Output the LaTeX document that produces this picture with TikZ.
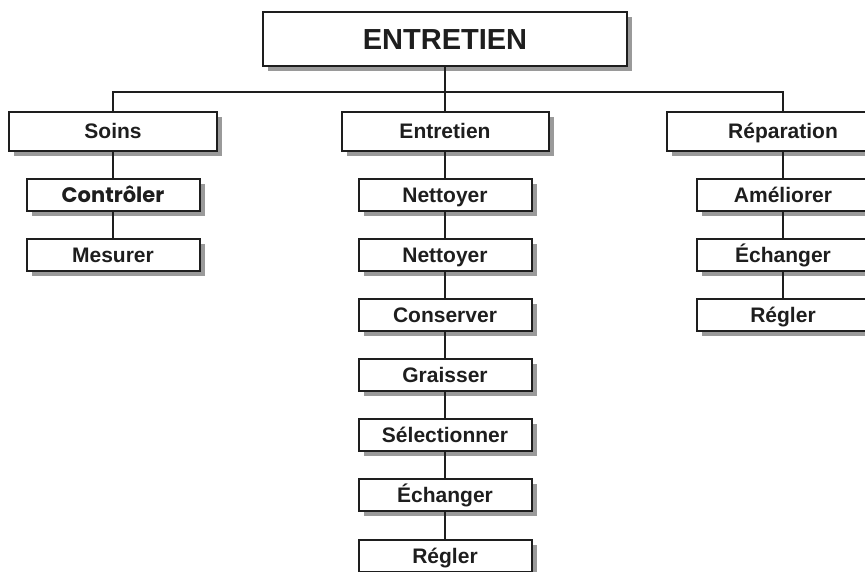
\documentclass[tikz,border=0pt]{standalone}
\usepackage{fontspec}
\setmainfont{Liberation Sans}
\newfontfamily\geofont{Poppins}
\usetikzlibrary{shadows}
\definecolor{ink}{HTML}{1E1E1E}
\definecolor{shade}{HTML}{9A9A9A}
\tikzset{
  box/.style={draw=ink, line width=2pt, fill=white, inner sep=0pt,
    text=ink, font=\bfseries\fontsize{21}{21}\selectfont,
    text height=15pt, text depth=0pt,
    drop shadow={shadow xshift=5pt, shadow yshift=-5pt, fill=shade, opacity=1}},
  topbox/.style={box, minimum width=364pt, minimum height=54pt,
    font=\bfseries\fontsize{29}{29}\selectfont, text height=20.8pt},
  mainbox/.style={box, minimum height=39pt},
  subbox/.style={box, minimum width=173pt, minimum height=32pt},
  link/.style={draw=ink, line width=2pt}
}
\begin{document}
\begin{tikzpicture}[x=1pt,y=-1pt]
\useasboundingbox (0,0) rectangle (865,572);
\clip (0,0) rectangle (865,572);
\fill[white] (0,0) rectangle (865,572);
% top
\node[topbox] (top) at (445,39) {ENTRETIEN};
% level 1
\node[mainbox, minimum width=208pt] (soins) at (113,131.5) {Soins};
\node[mainbox, minimum width=207pt] (ent) at (445,131.5) {Entretien};
\node[mainbox, minimum width=232pt] (rep) at (783,131.5) {Réparation};
% Soins column
\node[subbox, font=\geofont\bfseries\fontsize{21}{21}\selectfont] (s1) at (113,195) {Contrôler};
\node[subbox] (s2) at (113,255) {Mesurer};
% Entretien column
\node[subbox] (e1) at (445,195) {Nettoyer};
\node[subbox] (e2) at (445,255) {Nettoyer};
\node[subbox] (e3) at (445,315) {Conserver};
\node[subbox] (e4) at (445,375) {Graisser};
\node[subbox] (e5) at (445,435) {Sélectionner};
\node[subbox] (e6) at (445,495) {Échanger};
\node[subbox] (e7) at (445,556) {Régler};
% Réparation column
\node[subbox] (r1) at (783,195) {Améliorer};
\node[subbox] (r2) at (783,255) {Échanger};
\node[subbox] (r3) at (783,315) {Régler};
% bar
\coordinate (bar) at (445,92);
\draw[link] (top.south) -- (bar);
\draw[link] (soins.north) -- (soins.north |- bar) -- (rep.north |- bar) -- (rep.north);
\draw[link] (bar) -- (ent.north);
\draw[link] (soins.south) -- (s1.north);
\draw[link] (s1.south) -- (s2.north);
\draw[link] (ent.south) -- (e1.north);
\draw[link] (e1.south) -- (e2.north);
\draw[link] (e2.south) -- (e3.north);
\draw[link] (e3.south) -- (e4.north);
\draw[link] (e4.south) -- (e5.north);
\draw[link] (e5.south) -- (e6.north);
\draw[link] (e6.south) -- (e7.north);
\draw[link] (rep.south) -- (r1.north);
\draw[link] (r1.south) -- (r2.north);
\draw[link] (r2.south) -- (r3.north);
\end{tikzpicture}
\end{document}
